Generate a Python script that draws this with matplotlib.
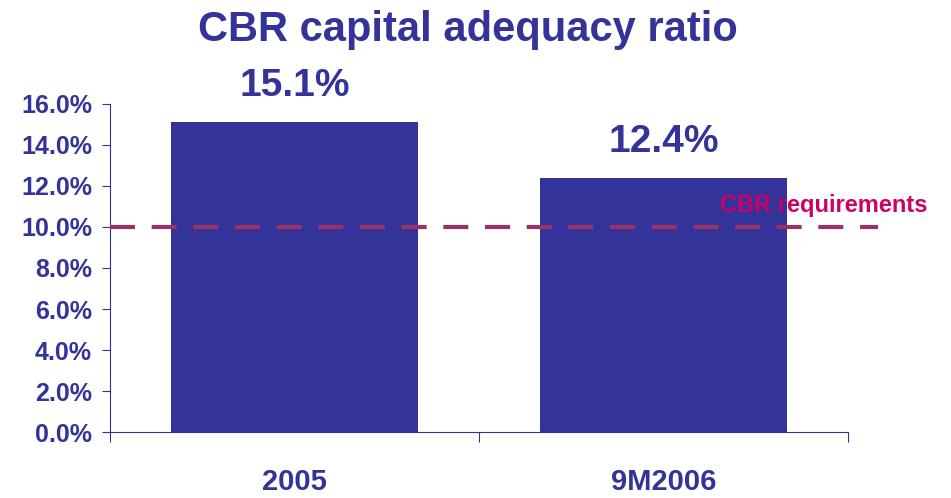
import matplotlib
matplotlib.use('Agg')
import matplotlib.pyplot as plt
import matplotlib.ticker as ticker

# Chart data
categories = ['2005', '9M2006']
ratios = [15.1, 12.4]
requirement = 10.0
requirement_label = 'CBR requirements'
title = 'CBR capital adequacy ratio'

blue = '#333399'
line_color = '#993366'
pink = '#CC0066'

plt.rcParams['font.family'] = ['Liberation Sans', 'DejaVu Sans']
plt.rcParams['font.weight'] = 'bold'

fig = plt.figure(figsize=(9.51, 4.98), dpi=100)
ax = fig.add_axes([0.1157, 0.1325, 0.776, 0.6587])

x = list(range(len(categories)))
ax.bar(x, ratios, width=0.67, color=blue, zorder=2)

# Value labels above bars
for xi, v in zip(x, ratios):
    ax.annotate(f'{v:.1f}%', (xi, v), xytext=(0, 13), textcoords='offset points',
                ha='center', va='bottom', fontsize=28, color=blue, fontweight='bold')

# Requirement line (runs a bit past the axis)
ax.plot([-0.5, 1.58], [requirement, requirement], color=line_color, lw=3,
        dashes=(6, 4), clip_on=False, zorder=3)
ax.text(1.153, 11.07, requirement_label, color=pink, fontsize=17,
        fontweight='bold', ha='left', va='center', zorder=4)

ax.set_xlim(-0.5, 1.5)
ax.set_ylim(0, 16)
ax.yaxis.set_major_locator(ticker.MultipleLocator(2))
ax.yaxis.set_major_formatter(ticker.FuncFormatter(lambda v, pos: f'{v:.1f}%'))

ax.set_xticks(x)
ax.set_xticklabels(categories, fontsize=21, fontweight='bold', color=blue)
ax.set_xticks([-0.5, 0.5, 1.5], minor=True)
ax.tick_params(axis='x', which='major', length=0, pad=26)
ax.tick_params(axis='x', which='minor', length=7, direction='out', color=blue, width=0.8)
ax.tick_params(axis='y', length=6, direction='out', color=blue, width=0.8,
               labelsize=18, labelcolor=blue, pad=7)
for lbl in ax.get_yticklabels():
    lbl.set_fontweight('bold')

for side in ['top', 'right']:
    ax.spines[side].set_visible(False)
for side in ['left', 'bottom']:
    ax.spines[side].set_color(blue)
    ax.spines[side].set_linewidth(0.8)

fig.text(0.492, 0.94, title, ha='center', va='center', fontsize=30,
         fontweight='bold', color=blue)

fig.savefig('out.png', dpi=100)
